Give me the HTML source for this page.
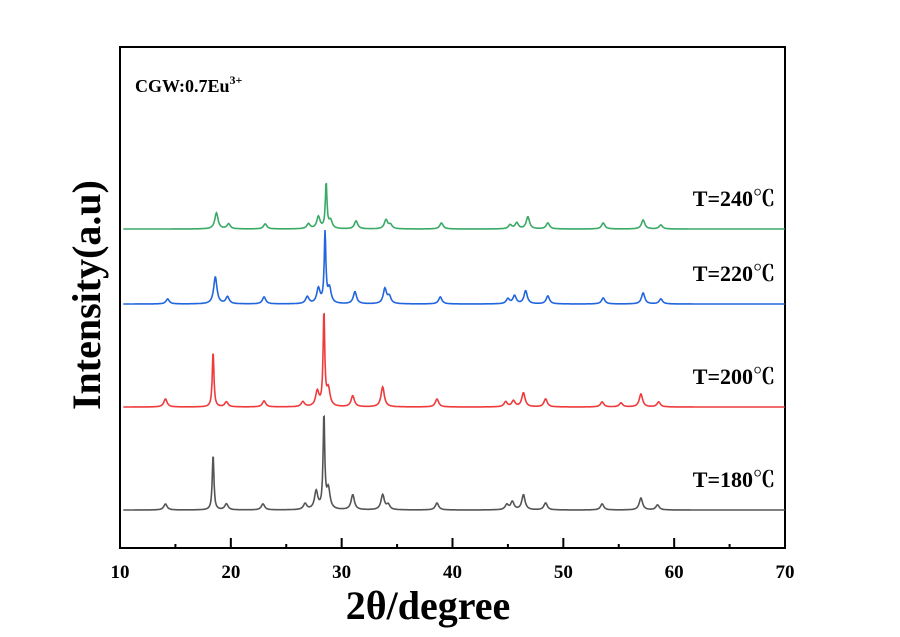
<!DOCTYPE html>
<html><head><meta charset="utf-8"><style>
body{margin:0;background:#fff;}
svg{display:block;font-family:"Liberation Serif","Noto Serif CJK SC",serif;font-weight:bold;}
</style></head><body>
<svg id="chart" width="900" height="637" viewBox="0 0 900 637">
<rect x="120" y="47" width="665" height="501" fill="none" stroke="#000" stroke-width="2"/>
<g id="ticks"></g>
<g id="series"></g>
<text x="135" y="92" font-size="18">CGW:0.7Eu<tspan dy="-8" font-size="12">3+</tspan></text>
<text x="428" y="619" font-size="40" text-anchor="middle">2θ/degree</text>
<text transform="translate(100,295) rotate(-90)" font-size="40" text-anchor="middle">Intensity(a.u)</text>
</svg>
<script>
const xTicks=[10,20,30,40,50,60,70];
const labels=["T=180℃","T=200℃","T=220℃","T=240℃"];
const colors=["#555555","#ef3b3b","#2266dd","#3aaa66"];
const baselines=[510,407,304,229];
const pos180=[14.1,18.4,19.6,22.9,26.7,27.7,28.4,28.8,31.0,33.7,34.2,38.6,44.9,45.4,46.4,48.4,53.5,57.0,58.5];
const h180=[6,55,6,6,6,18,93,20,15,15,5,7,5,8,15,7,6,12,5];
const pos200=[14.1,18.4,19.6,23.0,26.5,27.8,28.4,28.8,31.0,33.7,38.6,44.8,45.5,46.4,48.4,53.5,55.2,57.0,58.6];
const h200=[8,55,5,6,5,15,93,17,11,20,8,5,6,14,8,5,4,13,5];
const pos220=[14.3,18.6,19.7,23.0,26.9,27.9,28.5,28.9,31.2,33.9,34.3,38.9,45.0,45.6,46.6,48.6,53.6,57.2,58.8];
const h220=[5,27,7,7,7,15,70,15,12,15,7,7,5,8,13,8,6,11,5];
const pos240=[18.7,19.8,23.1,27.0,27.9,28.6,29.0,31.3,34.0,34.4,39.0,45.2,45.8,46.8,48.6,53.6,57.2,58.8];
const h240=[16,5,5,5,12,45,8,8,9,4,6,4,6,12,6,6,9,4];
const allPos=[pos180,pos200,pos220,pos240];
const allH=[h180,h200,h220,h240];
const X=v=>120+(v-10)*(665/60);
const ns="http://www.w3.org/2000/svg";
const tg=document.getElementById('ticks');
for(let v=10;v<=70;v+=5){
  const major=xTicks.includes(v);
  const t=document.createElementNS(ns,'line');
  t.setAttribute('x1',X(v));t.setAttribute('x2',X(v));
  t.setAttribute('y1',548);t.setAttribute('y2',major?538:544);
  t.setAttribute('stroke','#000');t.setAttribute('stroke-width','2');
  
  
  tg.appendChild(t);
}
xTicks.forEach(v=>{
  const t=document.createElementNS(ns,'text');
  t.setAttribute('x',X(v));t.setAttribute('y',578);
  t.setAttribute('text-anchor','middle');t.setAttribute('font-size','19');
  t.textContent=v;
  
  
  tg.appendChild(t);
});
const sg=document.getElementById('series');
allPos.forEach((ps,i)=>{
  const hs=allH[i];let d='';
  for(let x=10.3;x<=70;x+=0.04){
    let y=0;
    ps.forEach((p,k)=>{const w=hs[k]>30?0.09:0.18;const dd=(x-p)/w;y+=hs[k]/(1+dd*dd);});
    d+=(d?'L':'M')+X(x).toFixed(1)+','+(baselines[i]-y).toFixed(1);
  }
  const path=document.createElementNS(ns,'path');
  path.setAttribute('d',d);path.setAttribute('fill','none');
  path.setAttribute('stroke',colors[i]);path.setAttribute('stroke-width','1.6');
  
  
  sg.appendChild(path);
  const lt=document.createElementNS(ns,'text');
  lt.setAttribute('x',775);lt.setAttribute('y',baselines[i]-23);
  lt.setAttribute('text-anchor','end');lt.setAttribute('font-size','22');
  lt.textContent=labels[i];
  
  
  sg.appendChild(lt);
});
</script>
</body></html>
